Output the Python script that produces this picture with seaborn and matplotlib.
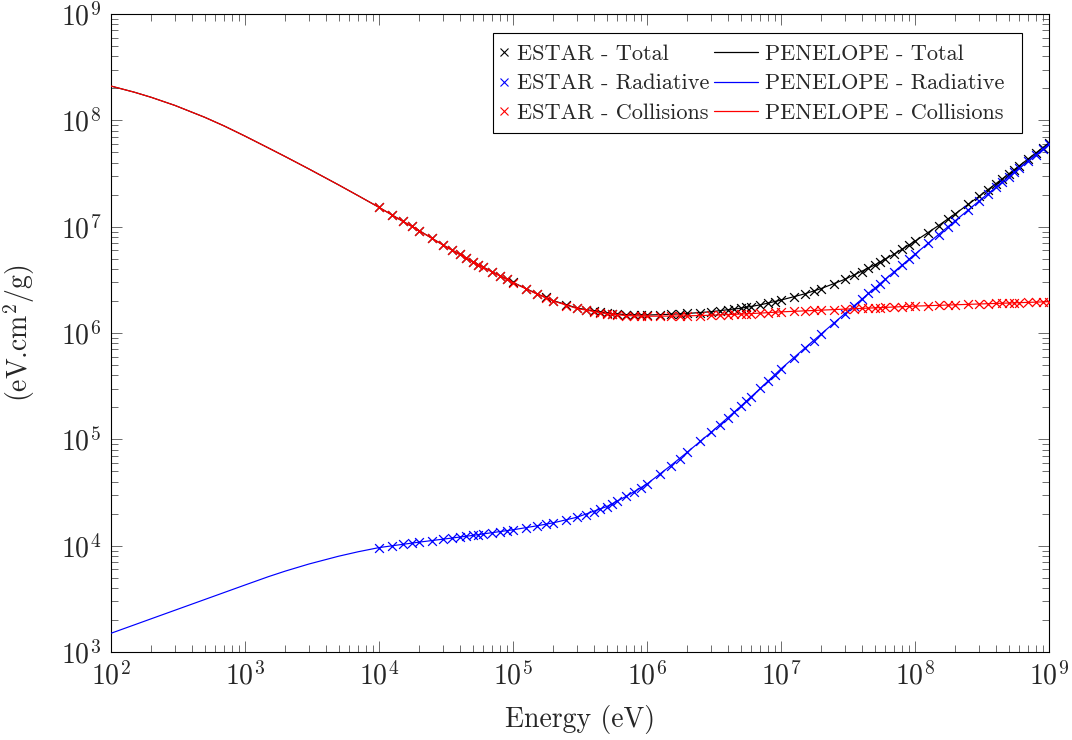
import matplotlib
matplotlib.use("Agg")
import matplotlib.pyplot as plt
import seaborn as sns
import pandas as pd
from matplotlib.lines import Line2D
from matplotlib.patches import Rectangle
from matplotlib.ticker import FixedLocator, LogLocator, NullFormatter

# ---------------------------------------------------------------------------
# ESTAR tabulated energies (MeV) and stopping powers (eV cm^2/g)
# ---------------------------------------------------------------------------
estar_energy_mev = [
    0.01, 0.0125, 0.015, 0.0175, 0.02, 0.025, 0.03, 0.035, 0.04, 0.045,
    0.05, 0.055, 0.06, 0.07, 0.08, 0.09,
    0.1, 0.125, 0.15, 0.175, 0.2, 0.25, 0.3, 0.35, 0.4, 0.45,
    0.5, 0.55, 0.6, 0.7, 0.8, 0.9,
    1.0, 1.25, 1.5, 1.75, 2.0, 2.5, 3.0, 3.5, 4.0, 4.5,
    5.0, 5.5, 6.0, 7.0, 8.0, 9.0,
    10.0, 12.5, 15.0, 17.5, 20.0, 25.0, 30.0, 35.0, 40.0, 45.0,
    50.0, 55.0, 60.0, 70.0, 80.0, 90.0,
    100.0, 125.0, 150.0, 175.0, 200.0, 250.0, 300.0, 350.0, 400.0, 450.0,
    500.0, 550.0, 600.0, 700.0, 800.0, 900.0,
    1000.0,
]

estar_collision = [
    15.2e6, 12.87e6, 11.26e6, 10.07e6, 9.16e6, 7.82e6, 6.73e6, 6.03e6, 5.49e6, 5.05e6,
    4.68e6, 4.39e6, 4.15e6, 3.75e6, 3.44e6, 3.19e6,
    2.98e6, 2.592e6, 2.331e6, 2.143e6, 2.000e6, 1.811e6, 1.700e6, 1.629e6, 1.578e6, 1.542e6,
    1.515e6, 1.495e6, 1.479e6, 1.458e6, 1.446e6, 1.440e6,
    1.438e6, 1.439e6, 1.442e6, 1.446e6, 1.450e6, 1.460e6, 1.469e6, 1.479e6, 1.488e6, 1.497e6,
    1.506e6, 1.514e6, 1.522e6, 1.538e6, 1.553e6, 1.567e6,
    1.580e6, 1.599e6, 1.615e6, 1.629e6, 1.640e6, 1.660e6, 1.677e6, 1.691e6, 1.703e6, 1.714e6,
    1.724e6, 1.733e6, 1.741e6, 1.756e6, 1.768e6, 1.780e6,
    1.790e6, 1.807e6, 1.820e6, 1.832e6, 1.842e6, 1.860e6, 1.874e6, 1.886e6, 1.896e6, 1.905e6,
    1.914e6, 1.921e6, 1.928e6, 1.941e6, 1.952e6, 1.961e6,
    1.970e6,
]

estar_radiative = [
    9.60e3, 9.97e3, 1.029e4, 1.056e4, 1.080e4, 1.117e4, 1.151e4, 1.178e4, 1.203e4, 1.227e4,
    1.248e4, 1.270e4, 1.290e4, 1.326e4, 1.358e4, 1.389e4,
    1.410e4, 1.474e4, 1.535e4, 1.590e4, 1.640e4, 1.746e4, 1.850e4, 1.960e4, 2.087e4, 2.220e4,
    2.330e4, 2.467e4, 2.610e4, 2.910e4, 3.200e4, 3.505e4,
    3.800e4, 4.716e4, 5.649e4, 6.600e4, 7.570e4, 9.550e4, 1.160e5, 1.372e5, 1.589e5, 1.813e5,
    2.041e5, 2.276e5, 2.515e5, 3.008e5, 3.521e5, 4.052e5,
    4.600e5, 5.876e5, 7.173e5, 8.487e5, 9.810e5, 1.250e6, 1.522e6, 1.797e6, 2.074e6, 2.353e6,
    2.634e6, 2.917e6, 3.201e6, 3.771e6, 4.345e6, 4.921e6,
    5.500e6, 6.959e6, 8.430e6, 9.900e6, 1.138e7, 1.436e7, 1.735e7, 2.035e7, 2.335e7, 2.636e7,
    2.938e7, 3.238e7, 3.540e7, 4.143e7, 4.746e7, 5.348e7,
    5.950e7,
]

estar_total = [
    15.21e6, 12.88e6, 11.27e6, 10.08e6, 9.171e6, 7.831e6, 6.742e6, 6.042e6, 5.502e6, 5.062e6,
    4.692e6, 4.403e6, 4.163e6, 3.763e6, 3.454e6, 3.204e6,
    2.994e6, 2.607e6, 2.346e6, 2.159e6, 2.016e6, 1.828e6, 1.719e6, 1.649e6, 1.599e6, 1.564e6,
    1.538e6, 1.520e6, 1.505e6, 1.487e6, 1.478e6, 1.475e6,
    1.476e6, 1.486e6, 1.499e6, 1.512e6, 1.526e6, 1.555e6, 1.585e6, 1.616e6, 1.647e6, 1.678e6,
    1.710e6, 1.742e6, 1.774e6, 1.839e6, 1.905e6, 1.972e6,
    2.040e6, 2.187e6, 2.332e6, 2.478e6, 2.621e6, 2.910e6, 3.199e6, 3.488e6, 3.777e6, 4.067e6,
    4.358e6, 4.650e6, 4.942e6, 5.527e6, 6.113e6, 6.701e6,
    7.290e6, 8.766e6, 10.25e6, 11.73e6, 13.22e6, 16.22e6, 19.22e6, 22.24e6, 25.25e6, 28.27e6,
    31.29e6, 34.30e6, 37.33e6, 43.37e6, 49.41e6, 55.44e6,
    61.47e6,
]

# ---------------------------------------------------------------------------
# PENELOPE stopping powers (eV cm^2/g), energies in eV
# ---------------------------------------------------------------------------
penelope_energy = [
    1e2, 1.5e2, 2e2, 3e2, 5e2, 7e2,
    1e3, 1.5e3, 2e3, 3e3, 5e3, 7e3,
    1e4, 1.5e4, 2e4, 3e4, 5e4, 7e4,
    1e5, 1.5e5, 2e5, 3e5, 5e5, 7e5,
    1e6, 1.5e6, 2e6, 3e6, 5e6, 7e6,
    1e7, 1.5e7, 2e7, 3e7, 5e7, 7e7,
    1e8, 1.5e8, 2e8, 3e8, 5e8, 7e8,
    1e9,
]

penelope_collision = [
    2.100e8, 1.836e8, 1.645e8, 1.381e8, 1.069e8, 8.85e7,
    7.11e7, 5.49e7, 4.56e7, 3.49e7, 2.47e7, 1.954e7,
    1.520e7, 1.126e7, 9.16e6, 6.73e6, 4.68e6, 3.75e6,
    2.98e6, 2.331e6, 2.000e6, 1.700e6, 1.515e6, 1.458e6,
    1.438e6, 1.442e6, 1.450e6, 1.469e6, 1.506e6, 1.538e6,
    1.580e6, 1.615e6, 1.640e6, 1.677e6, 1.724e6, 1.756e6,
    1.790e6, 1.820e6, 1.842e6, 1.874e6, 1.914e6, 1.941e6,
    1.970e6,
]

penelope_radiative = [
    1.500e3, 1.803e3, 2.055e3, 2.470e3, 3.114e3, 3.628e3,
    4.266e3, 5.118e3, 5.766e3, 6.721e3, 7.960e3, 8.768e3,
    9.590e3, 1.029e4, 1.080e4, 1.151e4, 1.248e4, 1.326e4,
    1.410e4, 1.535e4, 1.640e4, 1.850e4, 2.330e4, 2.910e4,
    3.800e4, 5.649e4, 7.570e4, 1.160e5, 2.041e5, 3.008e5,
    4.600e5, 7.173e5, 9.810e5, 1.522e6, 2.634e6, 3.771e6,
    5.500e6, 8.430e6, 1.138e7, 1.735e7, 2.938e7, 4.143e7,
    5.950e7,
]

penelope_total = [
    2.100e8, 1.836e8, 1.645e8, 1.381e8, 1.069e8, 8.85e7,
    7.11e7, 5.49e7, 4.56e7, 3.49e7, 2.47e7, 1.955e7,
    1.521e7, 1.127e7, 9.171e6, 6.742e6, 4.692e6, 3.763e6,
    2.994e6, 2.346e6, 2.016e6, 1.719e6, 1.538e6, 1.487e6,
    1.476e6, 1.499e6, 1.526e6, 1.585e6, 1.710e6, 1.839e6,
    2.040e6, 2.332e6, 2.621e6, 3.199e6, 4.358e6, 5.527e6,
    7.290e6, 10.25e6, 13.22e6, 19.22e6, 31.29e6, 43.37e6,
    61.47e6,
]

# axis decades shown as labelled ticks
x_decades = [1e2, 1e3, 1e4, 1e5, 1e6, 1e7, 1e8, 1e9]
y_decades = [1e3, 1e4, 1e5, 1e6, 1e7, 1e8, 1e9]

legend_estar = ["ESTAR - Total", "ESTAR - Radiative", "ESTAR - Collisions"]
legend_penelope = ["PENELOPE - Total", "PENELOPE - Radiative", "PENELOPE - Collisions"]
series_colors = ["black", "blue", "red"]

# ---------------------------------------------------------------------------
# Style
# ---------------------------------------------------------------------------
sns.set_style("ticks")
plt.rcParams.update({
    "font.family": ["cmr10", "DejaVu Serif"],
    "mathtext.fontset": "cm",
    "axes.formatter.use_mathtext": True,
    "axes.unicode_minus": False,
    "axes.edgecolor": "black",
    "axes.linewidth": 0.8,
})

estar_ev = [e * 1e6 for e in estar_energy_mev]
estar_df = pd.DataFrame({
    "energy": estar_ev * 3,
    "value": estar_total + estar_radiative + estar_collision,
    "kind": sum([[k] * len(estar_ev) for k in ["Total", "Radiative", "Collisions"]], []),
})
pen_df = pd.DataFrame({
    "energy": penelope_energy * 3,
    "value": penelope_total + penelope_radiative + penelope_collision,
    "kind": sum([[k] * len(penelope_energy) for k in ["Total", "Radiative", "Collisions"]], []),
})

fig = plt.figure(figsize=(10.72, 7.40), dpi=100)
ax = fig.add_axes([0.1035, 0.1189, 0.875, 0.8622])
ax.set_xscale("log")
ax.set_yscale("log")

# draw in pairs: ESTAR markers then the PENELOPE curve, collisions on top
z = 3
for kind, color in zip(["Total", "Radiative", "Collisions"], series_colors):
    sub_e = estar_df[estar_df["kind"] == kind]
    sns.scatterplot(data=sub_e, x="energy", y="value", marker="x", color=color,
                    s=40, linewidth=0.9, ax=ax, zorder=z, legend=False)
    sub_p = pen_df[pen_df["kind"] == kind]
    sns.lineplot(data=sub_p, x="energy", y="value", color=color, linewidth=0.85,
                 ax=ax, zorder=z + 1, legend=False, estimator=None, sort=False)
    z += 2

ax.set_xlim(x_decades[0], x_decades[-1])
ax.set_ylim(y_decades[0], y_decades[-1])

ax.xaxis.set_major_locator(FixedLocator(x_decades))
ax.yaxis.set_major_locator(FixedLocator(y_decades))
for axis in (ax.xaxis, ax.yaxis):
    axis.set_minor_locator(LogLocator(base=10, subs=range(2, 10), numticks=200))
    axis.set_minor_formatter(NullFormatter())

ax.tick_params(which="both", direction="in", top=True, right=True,
               color="#555555", width=0.6)
ax.tick_params(which="major", length=8, labelsize=20, pad=7)
ax.tick_params(which="minor", length=5.3)

ax.set_xlabel("Energy (eV)", fontsize=20)
ax.set_ylabel("(eV.cm$^2$/g)", fontsize=20)
ax.xaxis.set_label_coords(0.5, -0.083)
ax.yaxis.set_label_coords(-0.079, 0.5)

# ---------------------------------------------------------------------------
# Legend: marker-only ESTAR column, line PENELOPE column, shared frame
# ---------------------------------------------------------------------------
est_handles = [Line2D([], [], linestyle="none", marker="x", color=c,
                      markersize=5.5, markeredgewidth=0.8, label=l)
               for c, l in zip(series_colors, legend_estar)]
pen_handles = [Line2D([], [], color=c, linewidth=0.9, label=l)
               for c, l in zip(series_colors, legend_penelope)]

leg_kw = dict(frameon=False, fontsize=16, borderpad=0, borderaxespad=0,
              labelspacing=0.46, handletextpad=0.3)
leg_a = ax.legend(handles=est_handles, loc="upper left",
                  bbox_to_anchor=(0.4136, 0.9529), handlelength=0.5, **leg_kw)
ax.add_artist(leg_a)
leg_b = ax.legend(handles=pen_handles, loc="upper left",
                  bbox_to_anchor=(0.6429, 0.9529), handlelength=2.0, **leg_kw)
leg_a.set_zorder(20)
leg_b.set_zorder(20)

frame = Rectangle((0.4072, 0.8135), 0.9712 - 0.4072, 0.9702 - 0.8135,
                  transform=ax.transAxes, facecolor="white", edgecolor="black",
                  linewidth=0.8, zorder=19)
ax.add_patch(frame)

fig.savefig("out.png", dpi=100)
